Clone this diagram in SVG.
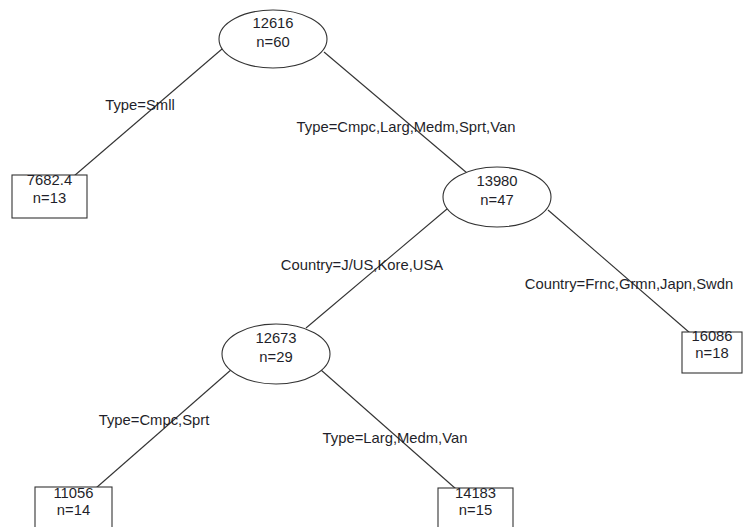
<svg xmlns="http://www.w3.org/2000/svg" width="744" height="527" viewBox="0 0 744 527">
  <style>
    .bg { fill: #ffffff; }
    .shape { fill: #ffffff; stroke: #333333; stroke-width: 1.1; }
    .edge { stroke: #333333; stroke-width: 1.1; fill: none; }
    text { font-family: "Liberation Sans", Arial, sans-serif; font-size: 14.8px; fill: #1f1f2a; text-anchor: middle; }
  </style>
  <rect class="bg" x="0" y="0" width="744" height="527"/>

  <!-- branches between splits and leaves -->
  <g id="connectors">
    <line class="edge" x1="222" y1="49" x2="74" y2="176"/>
    <line class="edge" x1="324" y1="52" x2="467" y2="173"/>
    <line class="edge" x1="447" y1="209" x2="306" y2="328"/>
    <line class="edge" x1="548" y1="210" x2="690" y2="333"/>
    <line class="edge" x1="232" y1="369" x2="96" y2="488"/>
    <line class="edge" x1="321" y1="370" x2="456" y2="489"/>
  </g>

  <!-- split labels -->
  <g id="edge-labels">
    <text x="140" y="110">Type=Smll</text>
    <text x="406" y="132">Type=Cmpc,Larg,Medm,Sprt,Van</text>
    <text x="362" y="270">Country=J/US,Kore,USA</text>
    <text x="629" y="289">Country=Frnc,Grmn,Japn,Swdn</text>
    <text x="154" y="425">Type=Cmpc,Sprt</text>
    <text x="395" y="443">Type=Larg,Medm,Van</text>
  </g>

  <g id="node-root">
    <ellipse class="shape" cx="273" cy="39" rx="54" ry="29"/>
    <text x="273" y="28">12616</text>
    <text x="273" y="47">n=60</text>
  </g>

  <g id="leaf-small">
    <rect class="shape" x="12" y="175" width="75" height="43"/>
    <text x="49.5" y="185">7682.4</text>
    <text x="49.5" y="203">n=13</text>
  </g>

  <g id="node-nonsmall">
    <ellipse class="shape" cx="497" cy="197" rx="54" ry="30"/>
    <text x="497" y="186">13980</text>
    <text x="497" y="205">n=47</text>
  </g>

  <g id="leaf-europe-japan">
    <rect class="shape" x="682" y="332" width="60" height="41"/>
    <text x="712" y="341">16086</text>
    <text x="712" y="358">n=18</text>
  </g>

  <g id="node-us-korea">
    <ellipse class="shape" cx="276" cy="354" rx="54" ry="30"/>
    <text x="276" y="343">12673</text>
    <text x="276" y="362">n=29</text>
  </g>

  <g id="leaf-compact-sporty">
    <rect class="shape" x="35" y="487" width="77" height="50"/>
    <text x="73.5" y="498">11056</text>
    <text x="73.5" y="515">n=14</text>
  </g>

  <g id="leaf-large-medium-van">
    <rect class="shape" x="438" y="488" width="75" height="50"/>
    <text x="475.5" y="498">14183</text>
    <text x="475.5" y="515">n=15</text>
  </g>
</svg>
